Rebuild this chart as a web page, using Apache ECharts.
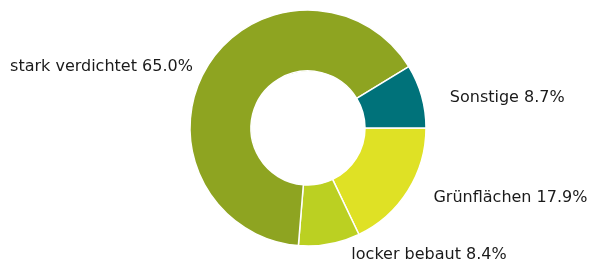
<!DOCTYPE html>
<html><head><meta charset="utf-8">
<script src="https://cdn.jsdelivr.net/npm/echarts@6/dist/echarts.min.js"></script>
<style>html,body{margin:0;padding:0;background:#fff}#c{width:590px;height:264px}</style>
</head><body><div id="c"></div>
<script>
const categories = ['Grünflächen', 'locker bebaut', 'stark verdichtet', 'Sonstige'];
const values = [17.9, 8.4, 65.0, 8.7];
const colors = ['#dfe125', '#bbd022', '#8ea421', '#00727a'];
// label fine-tuning offsets (layout only)
const labelShift = [[-3, -5], [8, -11], [14, 12], [-3, 8]];

const chart = echarts.init(document.getElementById('c'), null, {renderer: 'canvas'});
chart.setOption({
  animation: false,
  series: [{
    type: 'pie',
    center: [308, 128],
    radius: [57, 118],
    startAngle: 0,
    clockwise: true,
    avoidLabelOverlap: false,
    itemStyle: {borderColor: '#fff', borderWidth: 1.5},
    label: {
      show: true,
      position: 'outside',
      formatter: p => p.name + ' ' + p.value.toFixed(1) + '%',
      fontFamily: 'DejaVu Sans',
      fontSize: 16,
      color: '#1a1a1a'
    },
    labelLine: {show: false, length: 22, length2: 5},
    labelLayout: p => ({dx: labelShift[p.dataIndex][0], dy: labelShift[p.dataIndex][1]}),
    data: categories.map((c, i) => ({name: c, value: values[i], itemStyle: {color: colors[i]}}))
  }]
});
</script></body></html>
